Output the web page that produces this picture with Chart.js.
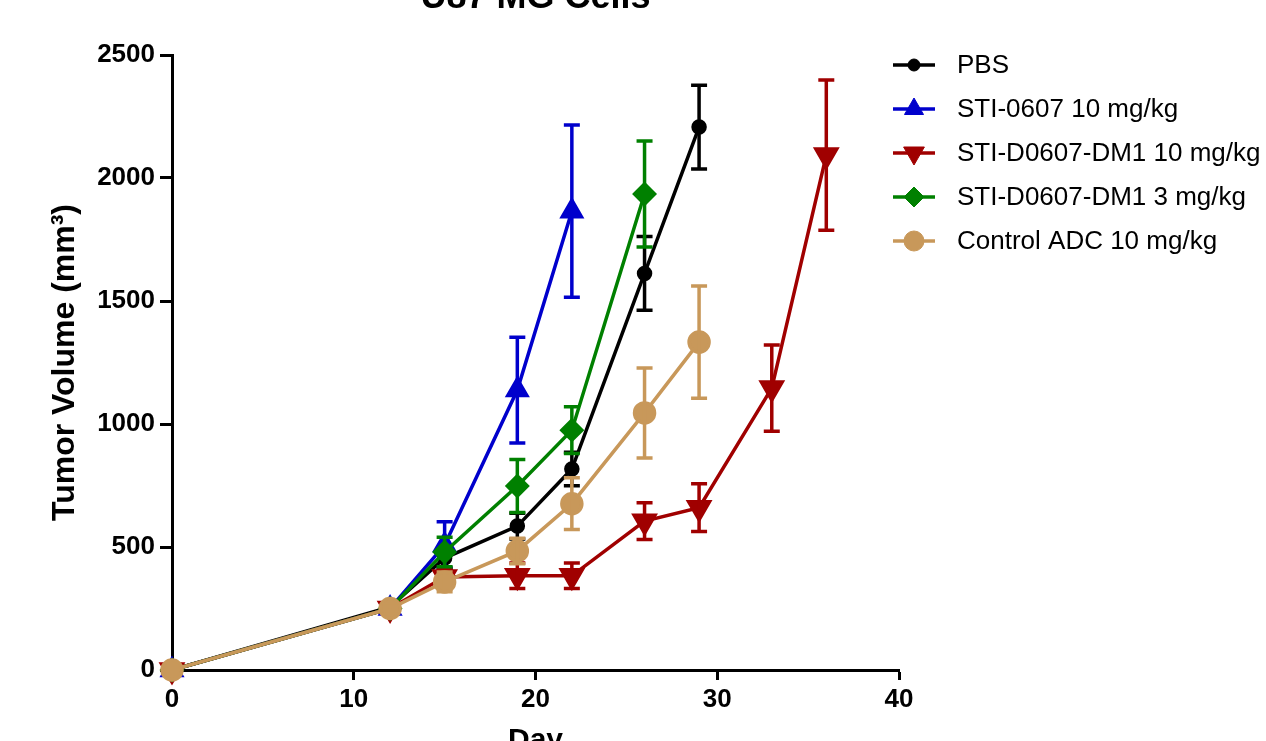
<!DOCTYPE html>
<html>
<head>
<meta charset="utf-8">
<script src="https://cdn.jsdelivr.net/npm/chart.js@4.4.0/dist/chart.umd.min.js"></script>
<style>
html, body { margin: 0; padding: 0; overflow: hidden; background: #fff; width: 1266px; height: 741px; }
#wrap { position: absolute; left: 0; top: -24px; width: 1266px; height: 805px; }
</style>
</head>
<body>
<div id="wrap"><canvas id="tumorChart"></canvas></div>
<script>
const chartTitle = 'U87 MG Cells';
const days = [0, 12, 15, 19, 22, 26, 29, 33, 36];
const groups = ['PBS', 'STI-0607 10 mg/kg', 'STI-D0607-DM1 10 mg/kg', 'STI-D0607-DM1 3 mg/kg', 'Control ADC 10 mg/kg'];

const pbs = [0, 256, 455, 585, 817, 1612, 2207];
const pbsErr = [0, 8, 40, 52, 68, 150, 170];
const sti0607 = [0, 250, 508, 1138, 1865];
const sti0607Err = [0, 8, 95, 215, 350];
const dm1High = [0, 250, 378, 383, 383, 605, 660, 1146, 2093];
const dm1HighErr = [0, 8, 30, 52, 52, 75, 97, 175, 305];
const dm1Low = [0, 250, 480, 748, 975, 1935];
const dm1LowErr = [0, 8, 60, 108, 95, 215];
const ctrlAdc = [0, 250, 358, 484, 676, 1045, 1333];
const ctrlAdcErr = [0, 8, 40, 52, 105, 183, 228];

const xTicks = [0, 10, 20, 30, 40];
const yTicks = [0, 500, 1000, 1500, 2000, 2500];

const FONT = '"Liberation Sans", Arial, sans-serif';

function pts(vals) {
  return vals.map((v, i) => ({ x: days[i], y: v }));
}

function series(label, vals, errs, color, style, radius, order, rotation) {
  return {
    label: label,
    data: pts(vals),
    errors: errs,
    borderColor: color,
    backgroundColor: color,
    pointBackgroundColor: color,
    pointBorderColor: color,
    pointStyle: style,
    pointRadius: radius,
    pointHoverRadius: radius,
    pointRotation: rotation || 0,
    borderWidth: 3.5,
    tension: 0,
    clip: false,
    order: order
  };
}

// error bars drawn right after each dataset, using the chart scales
const errorBars = {
  id: 'errorBars',
  afterDatasetDraw(chart, args) {
    const ds = chart.data.datasets[args.index];
    const ctx = chart.ctx;
    const sx = chart.scales.x, sy = chart.scales.y;
    ctx.save();
    ctx.strokeStyle = ds.borderColor;
    ctx.lineWidth = 3.5;
    ds.data.forEach((p, i) => {
      const e = ds.errors[i];
      if (!e) return;
      const px = sx.getPixelForValue(p.x);
      const top = sy.getPixelForValue(p.y + e);
      const bot = sy.getPixelForValue(p.y - e);
      ctx.beginPath();
      ctx.moveTo(px, top); ctx.lineTo(px, bot);
      ctx.moveTo(px - 8, top); ctx.lineTo(px + 8, top);
      ctx.moveTo(px - 8, bot); ctx.lineTo(px + 8, bot);
      ctx.stroke();
    });
    ctx.restore();
  }
};

// title centred over the plot area, legend with line + marker
const decorations = {
  id: 'decorations',
  afterDraw(chart) {
    const ctx = chart.ctx;
    const area = chart.chartArea;
    ctx.save();
    ctx.fillStyle = '#000';
    ctx.font = 'bold 36px ' + FONT;
    ctx.textAlign = 'center';
    ctx.textBaseline = 'middle';
    ctx.fillText(chartTitle, (area.left + area.right) / 2, 22);
    ctx.restore();

    chart.data.datasets.forEach((ds, i) => {
      const yy = 89 + i * 44;
      ctx.save();
      ctx.strokeStyle = ds.borderColor;
      ctx.fillStyle = ds.borderColor;
      ctx.lineWidth = 3.5;
      ctx.beginPath();
      ctx.moveTo(893, yy); ctx.lineTo(935, yy);
      ctx.stroke();
      ctx.lineWidth = 1;
      Chart.helpers.drawPoint(ctx, {
        pointStyle: ds.pointStyle, rotation: ds.pointRotation, radius: ds.pointRadius, borderWidth: 1
      }, 914, yy);
      ctx.fillStyle = '#000';
      ctx.font = '26px ' + FONT;
      ctx.textBaseline = 'middle';
      ctx.textAlign = 'left';
      ctx.fillText(ds.label, 957, yy + 1);
      ctx.restore();
    });
  }
};

const chartData = {
  datasets: [
    series(groups[0], pbs, pbsErr, '#000000', 'circle', 6, 4),
    series(groups[1], sti0607, sti0607Err, '#0000cc', 'triangle', 11, 3),
    series(groups[2], dm1High, dm1HighErr, '#a00000', 'triangle', 12, 2, 180),
    series(groups[3], dm1Low, dm1LowErr, '#008000', 'rectRot', 10, 1),
    series(groups[4], ctrlAdc, ctrlAdcErr, '#c8985a', 'circle', 10, 0)
  ]
};

const config = {
  type: 'line',
  data: chartData,
  plugins: [errorBars, decorations],
  options: {
    responsive: true,
    maintainAspectRatio: false,
    animation: false,
    layout: { padding: { left: 0, right: 367, top: 79, bottom: 0 } },
    plugins: {
      legend: { display: false },
      tooltip: { enabled: false },
      title: { display: false }
    },
    scales: {
      x: {
        type: 'linear',
        min: 0, max: 40,
        afterBuildTicks: s => { s.ticks = xTicks.map(v => ({ value: v })); },
        afterFit: s => { s.height = 111; },
        border: { color: '#000', width: 3 },
        grid: { drawOnChartArea: false, drawTicks: true, tickLength: 10, tickWidth: 3, tickColor: '#000' },
        ticks: { color: '#000', padding: 4, font: { family: FONT, size: 26, weight: 'bold' }, callback: v => String(v) },
        title: {
          display: true, text: 'Day', color: '#000',
          font: { family: FONT, size: 30, weight: 'bold', lineHeight: 1.2 },
          padding: { top: 0, bottom: 22 }
        }
      },
      y: {
        type: 'linear',
        min: 0, max: 2500,
        afterBuildTicks: s => { s.ticks = yTicks.map(v => ({ value: v })); },
        afterFit: s => { s.width = 172; },
        border: { color: '#000', width: 3 },
        grid: { drawOnChartArea: false, drawTicks: true, tickLength: 12, tickWidth: 3, tickColor: '#000' },
        ticks: { color: '#000', padding: 5, font: { family: FONT, size: 26, weight: 'bold' }, callback: v => String(v) },
        title: {
          display: true, text: 'Tumor Volume (mm³)', color: '#000',
          font: { family: FONT, size: 32, weight: 'bold', lineHeight: 1.2 },
          padding: { top: 46, bottom: 0 }
        }
      }
    }
  }
};

const myChart = new Chart(document.getElementById('tumorChart'), config);
</script>
</body>
</html>
